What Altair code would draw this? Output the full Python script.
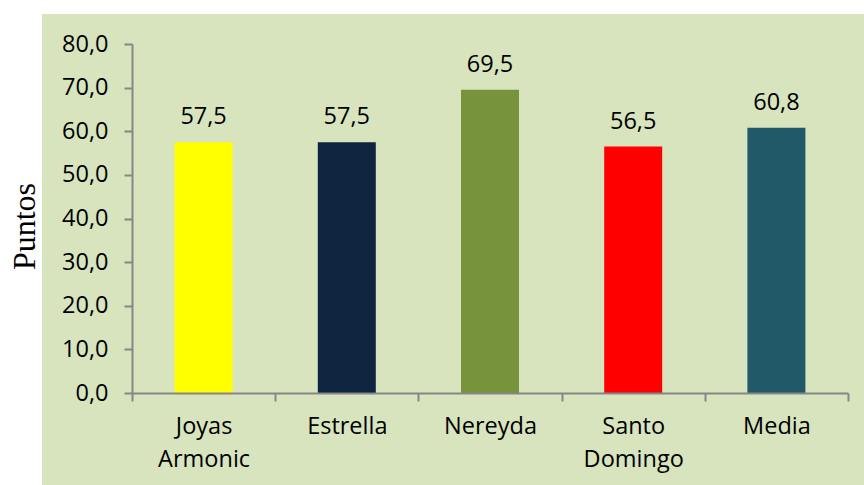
import altair as alt
import pandas as pd

categories = ["Joyas|Armonic", "Estrella", "Nereyda", "Santo|Domingo", "Media"]
values = [57.5, 57.5, 69.5, 56.5, 60.8]
colors = ["#FFFF00", "#0F243E", "#77933C", "#FF0000", "#215968"]
y_ticks = [0, 10, 20, 30, 40, 50, 60, 70, 80]

df = pd.DataFrame({"cat": categories, "val": values})

W, H = 716, 349
FONT = "Open Sans"
FS = 23.5
AXIS_COLOR = "#868686"

bg = alt.Chart(pd.DataFrame({"k": [0]})).mark_rect(color="#D7E4BD").encode(
    x=alt.value(-90), x2=alt.value(W + 16), y=alt.value(-30), y2=alt.value(H + 92)
)

x_enc = alt.X(
    "cat:N",
    sort=categories,
    scale=alt.Scale(paddingInner=0, paddingOuter=0),
    axis=alt.Axis(
        title=None,
        labelAngle=0,
        labelExpr="split(datum.label, '|')",
        labelFont=FONT,
        labelFontSize=FS,
        labelColor="black",
        labelLineHeight=33,
        labelPadding=13,
        tickBand="extent",
        tickSize=8,
        tickColor=AXIS_COLOR,
        tickWidth=2,
        domainColor=AXIS_COLOR,
        domainWidth=2,
        zindex=1,
    ),
)

y_enc = alt.Y(
    "val:Q",
    scale=alt.Scale(domain=[0, 80], nice=False),
    axis=alt.Axis(
        values=y_ticks,
        labelExpr="replace(format(datum.value, '.1f'), '.', ',')",
        labelFont=FONT,
        labelFontSize=FS,
        labelColor="black",
        labelPadding=16,
        tickSize=8,
        tickColor=AXIS_COLOR,
        tickWidth=2,
        domainColor=AXIS_COLOR,
        domainWidth=2,
        grid=False,
        title="Puntos",
        titleFont="Liberation Serif",
        titleFontSize=32,
        titleFontWeight="normal",
        titleColor="black",
        titleAngle=270,
        titleAlign="center",
        titleBaseline="alphabetic",
        titleX=-98,
        titleY=182,
        zindex=1,
    ),
)

bars = alt.Chart(df).mark_bar(width=alt.RelativeBandSize(0.405)).encode(
    x=x_enc,
    y=y_enc,
    color=alt.Color("cat:N", scale=alt.Scale(domain=categories, range=colors), legend=None),
)

labels = alt.Chart(df).transform_calculate(
    label="replace(format(datum.val, '.1f'), '.', ',')"
).mark_text(dy=-18, baseline="alphabetic", fontSize=FS, font=FONT, color="black").encode(
    x=alt.X("cat:N", sort=categories),
    y="val:Q",
    text="label:N",
)

chart = alt.layer(bg, bars, labels).properties(
    width=W,
    height=H,
    autosize=alt.AutoSizeParams(type="none"),
    padding={"left": 132, "top": 44, "right": 16, "bottom": 92},
    background="white",
).configure_view(stroke=None)

chart.save("out.html", embed_options={"renderer": "svg", "actions": False})
